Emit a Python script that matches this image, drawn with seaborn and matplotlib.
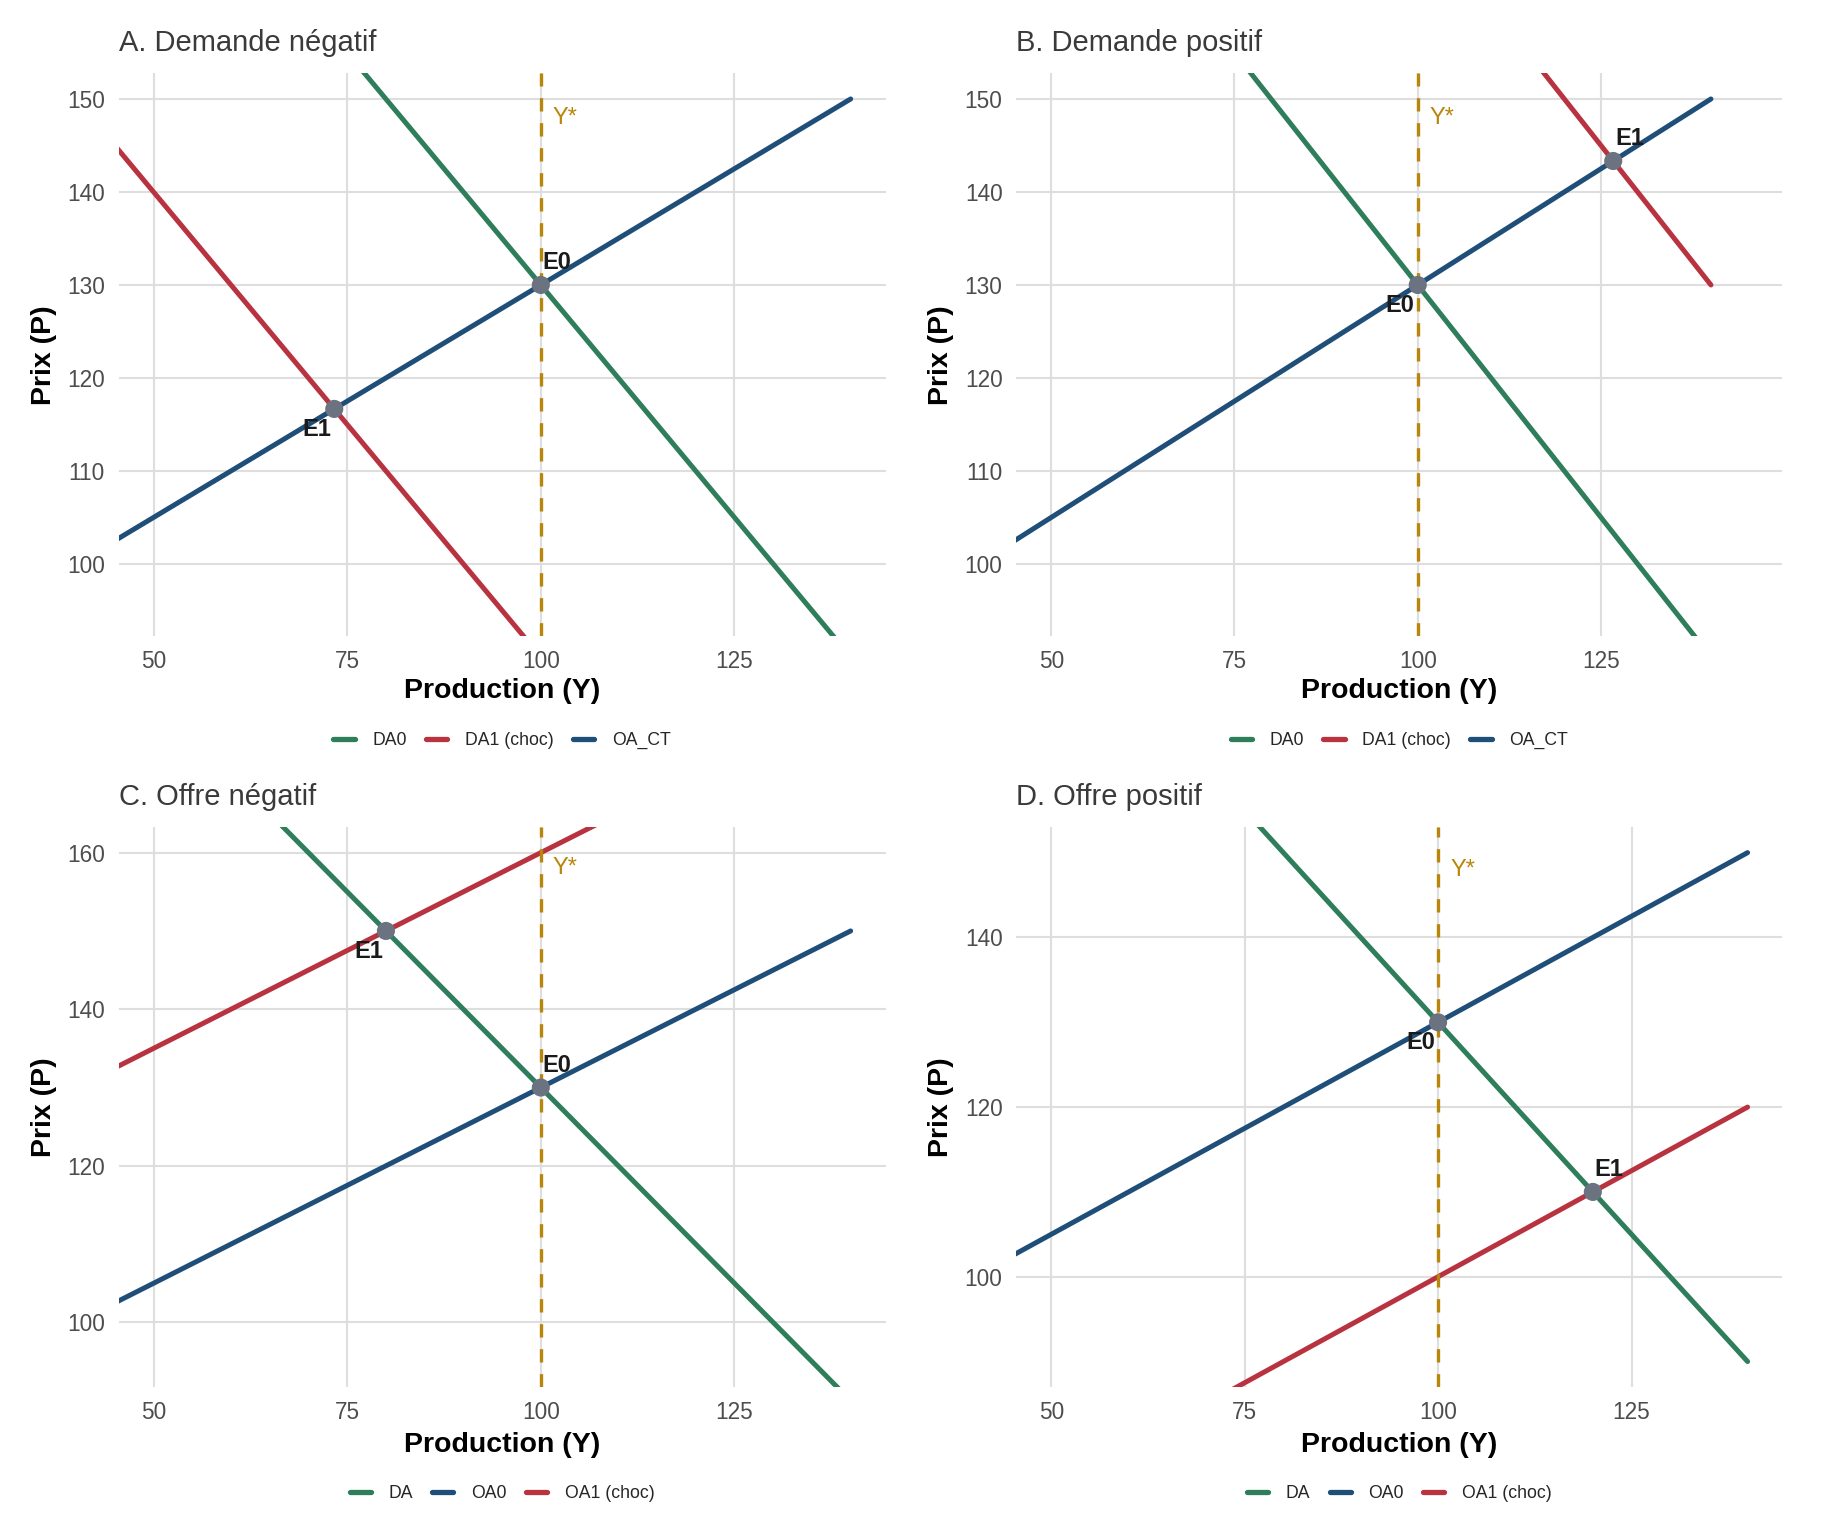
import matplotlib
matplotlib.use('Agg')
import matplotlib.pyplot as plt
from matplotlib.lines import Line2D
import seaborn as sns
import pandas as pd

# Courbes : extrémités en Y (droites) et prix correspondants
Y_ENDS = [40, 140]

# A. Demande négatif
A_DA0 = [190, 90]
A_DA1 = [150, 50]
A_OA = [100, 150]
A_EQ_Y = [100, 73.33]
A_EQ_P = [130, 116.67]

# B. Demande positif
B_DA0 = [190, 90]
B_DA1 = [230, 130]
B_OA = [100, 150]
B_EQ_Y = [100, 126.67]
B_EQ_P = [130, 143.33]

# C. Offre négatif
C_DA = [190, 90]
C_OA0 = [100, 150]
C_OA1 = [130, 180]
C_EQ_Y = [100, 80]
C_EQ_P = [130, 150]

# D. Offre positif
D_DA = [190, 90]
D_OA0 = [100, 150]
D_OA1 = [70, 120]
D_EQ_Y = [100, 120]
D_EQ_P = [130, 110]

EQ_LABELS = ["E0", "E1"]
Y_STAR = 100

TITLES = ["A. Demande négatif", "B. Demande positif", "C. Offre négatif", "D. Offre positif"]
X_LIMS = [(50, 140), (50, 145), (50, 140), (50, 140)]
Y_LIMS = [(95, 150), (95, 150), (95, 160), (90, 150)]
Y_TICKS = [[100, 110, 120, 130, 140, 150], [100, 110, 120, 130, 140, 150],
           [100, 120, 140, 160], [100, 120, 140]]
X_TICKS = [50, 75, 100, 125]

GREEN = "#2E7D5B"
RED = "#B8323F"
BLUE = "#1F4E79"
GOLD = "#B8860B"
GREY_PT = "#6B7280"

sns.set_theme(style="white")
plt.rcParams['font.family'] = ['Liberation Sans', 'DejaVu Sans']

fig = plt.figure(figsize=(18.24, 15.36), dpi=100)
W, H = 1824, 1536
boxes = [(118.7, 885.5, 73.4, 636.0), (1016.4, 1782.4, 73.4, 636.0),
         (118.7, 885.5, 827.2, 1387.0), (1016.4, 1782.4, 827.2, 1387.0)]
xlab_y = [-0.098, -0.098, -0.103, -0.103]
leg_y = [-0.186, -0.186, -0.19, -0.19]

panels = [
    ([("DA0", A_DA0, GREEN), ("DA1 (choc)", A_DA1, RED), ("OA_CT", A_OA, BLUE)], A_EQ_Y, A_EQ_P),
    ([("DA0", B_DA0, GREEN), ("DA1 (choc)", B_DA1, RED), ("OA_CT", B_OA, BLUE)], B_EQ_Y, B_EQ_P),
    ([("DA", C_DA, GREEN), ("OA0", C_OA0, BLUE), ("OA1 (choc)", C_OA1, RED)], C_EQ_Y, C_EQ_P),
    ([("DA", D_DA, GREEN), ("OA0", D_OA0, BLUE), ("OA1 (choc)", D_OA1, RED)], D_EQ_Y, D_EQ_P),
]

for i, (curves, eq_y, eq_p) in enumerate(panels):
    l, r, t, b = boxes[i]
    ax = fig.add_axes([l / W, 1 - b / H, (r - l) / W, (b - t) / H])

    rows = []
    for name, prices, _ in curves:
        for y, p in zip(Y_ENDS, prices):
            rows.append({"Y": y, "P": p, "courbe": name})
    df = pd.DataFrame(rows)
    names = [c[0] for c in curves]
    pal = {c[0]: c[2] for c in curves}

    sns.lineplot(data=df, x="Y", y="P", hue="courbe", hue_order=names, palette=pal,
                 estimator=None, linewidth=3.6, legend=False, ax=ax, zorder=3)

    ax.axvline(Y_STAR, color=GOLD, linewidth=2.4, dashes=(4, 3.5), zorder=4)

    eq = pd.DataFrame({"Y": eq_y, "P": eq_p, "lab": EQ_LABELS})
    sns.scatterplot(data=eq, x="Y", y="P", color=GREY_PT, s=170, edgecolor="none",
                    ax=ax, zorder=5, legend=False)
    right_idx = eq["Y"].idxmax()
    for j, row in eq.iterrows():
        if j == right_idx:
            off, ha, va = (2, 11), "left", "bottom"
        else:
            off, ha, va = (-3, -9), "right", "top"
        ax.annotate(row["lab"], (row["Y"], row["P"]), xytext=off, textcoords="offset pixels",
                    ha=ha, va=va, fontsize=17, fontweight="bold", color="#1A1A1A", zorder=6)

    x0, x1 = X_LIMS[i]
    y0, y1 = Y_LIMS[i]
    ex, ey = (x1 - x0) * 0.05, (y1 - y0) * 0.05
    ax.set_xlim(x0 - ex, x1 + ex)
    ax.set_ylim(y0 - ey, y1 + ey)
    ax.annotate("Y*", (Y_STAR, y1 - 2), xytext=(12, 0), textcoords="offset pixels",
                ha="left", va="center", fontsize=17, color=GOLD, zorder=6)

    ax.set_xticks(X_TICKS)
    ax.set_yticks(Y_TICKS[i])
    ax.grid(True, color="#DEDEDE", linewidth=1.5, zorder=0)
    ax.set_axisbelow(True)
    for s in ax.spines.values():
        s.set_visible(False)
    ax.tick_params(length=0, pad=10, labelsize=16.3, labelcolor="#4D4D4D")

    ax.set_title(TITLES[i], loc="left", fontsize=21, color="#3A3A3A", pad=15.8)
    ax.set_xlabel("Production (Y)", fontsize=20.5, fontweight="bold", color="black", va="center")
    ax.set_ylabel("Prix (P)", fontsize=20.5, fontweight="bold", color="black", va="center")
    ax.xaxis.set_label_coords(0.5, xlab_y[i])
    ax.yaxis.set_label_coords(-0.098, 0.5)

    handles = [Line2D([0], [0], color=c[2], linewidth=3.8) for c in curves]
    ax.legend(handles, names, loc="center", bbox_to_anchor=(0.5, leg_y[i]), ncol=3,
              frameon=False, fontsize=12.7, handlelength=1.2, handletextpad=1.0,
              columnspacing=1.1)

fig.savefig("out.png", dpi=100, facecolor="white")
